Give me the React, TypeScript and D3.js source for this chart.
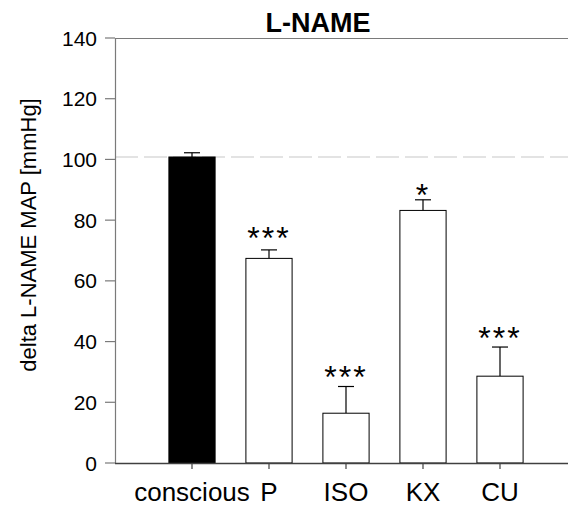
import React from "react";
import * as d3 from "d3";

const categories = ["conscious", "P", "ISO", "KX", "CU"];
const means = [100.8, 67.4, 16.4, 83.2, 28.6];
const errors = [1.4, 2.8, 8.8, 3.5, 9.6];
const fills = ["#000000", "#ffffff", "#ffffff", "#ffffff", "#ffffff"];
const sigLabels = ["", "***", "***", "*", "***"];
const yTicks = [0, 20, 40, 60, 80, 100, 120, 140];
const referenceValue = 100.8;

const W = 568;
const H = 506;
const left = 115;
const top = 38;
const bottom = 463;

export default function App() {
  const y = d3.scaleLinear().domain([0, 140]).range([bottom, top]);
  const x = d3
    .scaleBand<string>()
    .domain(categories)
    .range([left, left + 6 * 77])
    .paddingInner(0.4)
    .paddingOuter(0.7);
  const bw = x.bandwidth();
  const font = "Liberation Sans, Arial, sans-serif";
  const gaps = [8, 10, 8, 3, 7];

  return (
    <svg
      width={W}
      height={H}
      style={{ position: "absolute", left: 0, top: 0, background: "#fff" }}
      fontFamily={font}
    >
      {/* title */}
      <text x={318} y={32} textAnchor="middle" fontSize={27} fontWeight="bold" fill="#000">
        L-NAME
      </text>
      {/* top frame line */}
      <line x1={left} x2={W} y1={top + 0.5} y2={top + 0.5} stroke="#7a7a7a" strokeWidth={1} />
      {/* reference dashed line */}
      <line
        x1={left}
        x2={W}
        y1={y(referenceValue)}
        y2={y(referenceValue)}
        stroke="#c8c8c8"
        strokeWidth={1.2}
        strokeDasharray="23,6"
      />
      {/* bars */}
      {categories.map((c, i) => {
        const x0 = x(c)!;
        const cx = x0 + bw / 2;
        const yTop = y(means[i]);
        const yCap = y(means[i] + errors[i]);
        return (
          <g key={c}>
            <line x1={cx} x2={cx} y1={yTop} y2={yCap} stroke="#000" strokeWidth={1.2} />
            <line x1={cx - 8} x2={cx + 8} y1={yCap} y2={yCap} stroke="#000" strokeWidth={1.2} />
            <rect
              x={x0}
              y={yTop}
              width={bw}
              height={bottom - yTop}
              fill={fills[i]}
              stroke="#000"
              strokeWidth={1}
            />
            {sigLabels[i] && (
              <text
                x={cx}
                y={yCap - gaps[i] + 9}
                textAnchor="middle"
                fontSize={32}
                letterSpacing={2}
                fill="#000"
              >
                {sigLabels[i]}
              </text>
            )}
          </g>
        );
      })}
      {/* y axis */}
      <line x1={left + 0.5} x2={left + 0.5} y1={top} y2={bottom} stroke="#7a7a7a" strokeWidth={1.2} />
      {yTicks.map((t) => (
        <g key={t}>
          <line x1={left - 10} x2={left} y1={y(t)} y2={y(t)} stroke="#7a7a7a" strokeWidth={1.2} />
          <text x={97} y={y(t) + 7.5} textAnchor="end" fontSize={21} fill="#000">
            {t}
          </text>
        </g>
      ))}
      {/* x axis */}
      <line x1={left} x2={W} y1={bottom + 0.5} y2={bottom + 0.5} stroke="#404040" strokeWidth={1.3} />
      {categories.map((c) => {
        const cx = x(c)! + bw / 2;
        return (
          <g key={c}>
            <line x1={cx} x2={cx} y1={bottom} y2={bottom + 6} stroke="#404040" strokeWidth={1.2} />
            <text x={cx} y={501} textAnchor="middle" fontSize={26} fill="#000">
              {c}
            </text>
          </g>
        );
      })}
      {/* y label */}
      <text
        transform={`translate(36,235) rotate(-90)`}
        textAnchor="middle"
        fontSize={22}
        fill="#000"
      >
        delta L-NAME MAP [mmHg]
      </text>
    </svg>
  );
}
